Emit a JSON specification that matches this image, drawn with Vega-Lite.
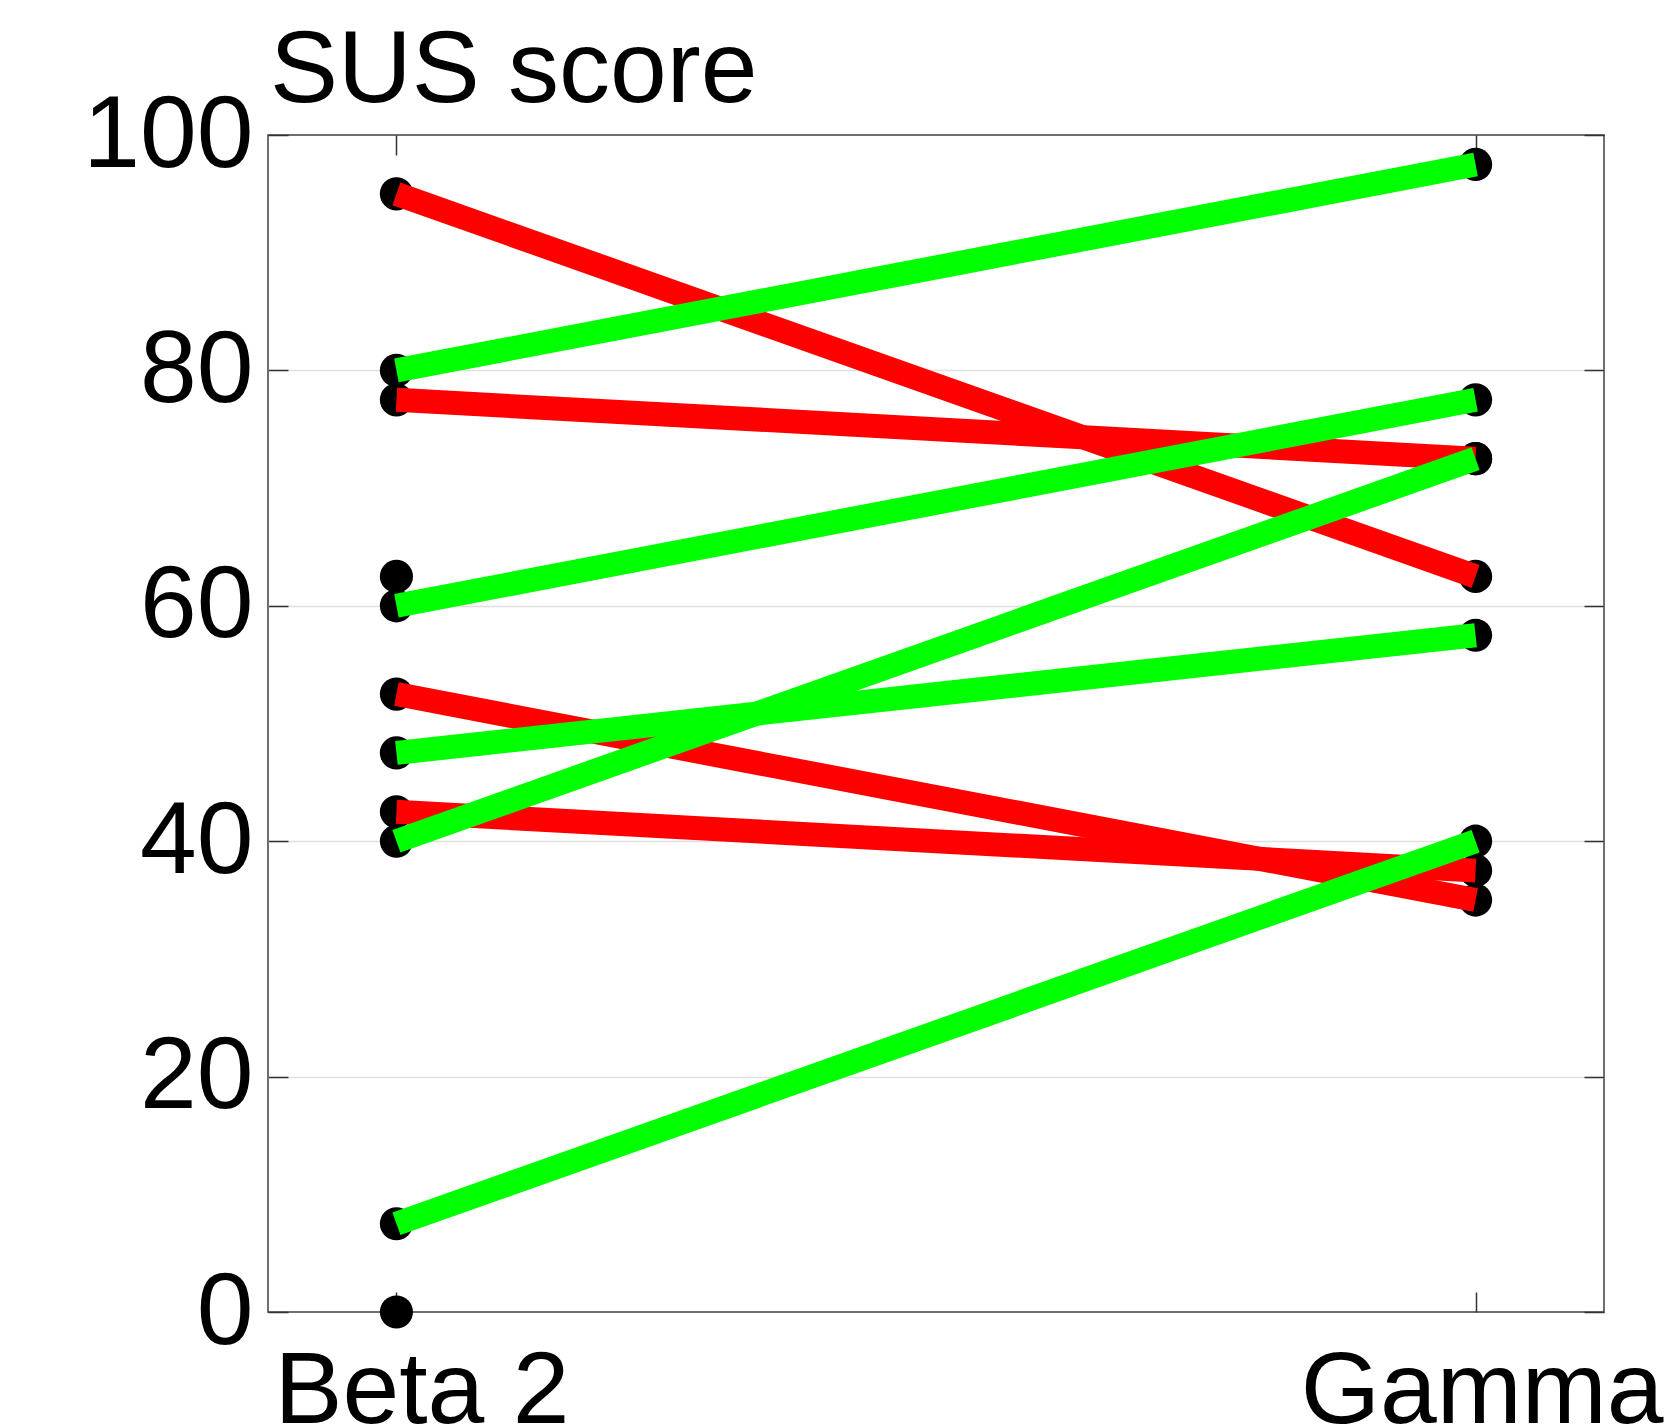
{
  "$schema": "https://vega.github.io/schema/vega-lite/v6.json",
  "width": 1336,
  "height": 1177,
  "autosize": {"type": "none"},
  "padding": {"left": 268, "top": 135, "right": 71, "bottom": 112},
  "background": "white",
  "config": {
    "font": "Liberation Sans",
    "view": {"stroke": "#404040", "strokeWidth": 1.5}
  },
  "title": {
    "text": "SUS score",
    "anchor": "start",
    "frame": "group",
    "fontSize": 102,
    "fontWeight": "normal",
    "color": "black",
    "baseline": "alphabetic",
    "offset": -120,
    "dx": 2
  },
  "data": {
    "values": [
      {"id": 1, "change": "down", "version": "Beta 2", "score": 95},
      {"id": 1, "change": "down", "version": "Gamma", "score": 62.5},
      {"id": 2, "change": "down", "version": "Beta 2", "score": 77.5},
      {"id": 2, "change": "down", "version": "Gamma", "score": 72.5},
      {"id": 3, "change": "down", "version": "Beta 2", "score": 52.5},
      {"id": 3, "change": "down", "version": "Gamma", "score": 35},
      {"id": 4, "change": "down", "version": "Beta 2", "score": 42.5},
      {"id": 4, "change": "down", "version": "Gamma", "score": 37.5},
      {"id": 5, "change": "up", "version": "Beta 2", "score": 80},
      {"id": 5, "change": "up", "version": "Gamma", "score": 97.5},
      {"id": 6, "change": "up", "version": "Beta 2", "score": 60},
      {"id": 6, "change": "up", "version": "Gamma", "score": 77.5},
      {"id": 7, "change": "up", "version": "Beta 2", "score": 47.5},
      {"id": 7, "change": "up", "version": "Gamma", "score": 57.5},
      {"id": 8, "change": "up", "version": "Beta 2", "score": 40},
      {"id": 8, "change": "up", "version": "Gamma", "score": 72.5},
      {"id": 9, "change": "up", "version": "Beta 2", "score": 7.5},
      {"id": 9, "change": "up", "version": "Gamma", "score": 40},
      {"id": 10, "change": "none", "version": "Beta 2", "score": 62.5},
      {"id": 11, "change": "none", "version": "Beta 2", "score": 0}
    ]
  },
  "layer": [
    {
      "mark": {"type": "circle", "size": 1100, "color": "black", "opacity": 1},
      "encoding": {
        "x": {
          "field": "version",
          "type": "nominal",
          "scale": {"type": "point", "padding": 0.119, "domain": ["Beta 2", "Gamma"]},
          "axis": {
            "orient": "bottom",
            "title": null,
            "domain": false,
            "grid": false,
            "labelAngle": 0,
            "labelFontSize": 102,
            "labelColor": "black",
            "labelBaseline": "top",
            "labelLimit": 0,
            "labelPadding": 49,
            "labelOffset": {"condition": {"test": "datum.value === 'Beta 2'", "value": 25}, "value": 6},
            "tickSize": -20,
            "tickColor": "#333333",
            "tickWidth": 1.5
          }
        },
        "y": {
          "field": "score",
          "type": "quantitative",
          "scale": {"domain": [0, 100], "nice": false},
          "axis": {
            "orient": "left",
            "title": null,
            "domain": false,
            "values": [0, 20, 40, 60, 80, 100],
            "grid": true,
            "gridColor": "#e0e0e0",
            "gridWidth": 1.5,
            "gridOpacity": {"condition": {"test": "datum.value === 0 || datum.value === 100", "value": 0}, "value": 1},
            "labelFontSize": 102,
            "labelColor": "black",
            "labelPadding": 35,
            "labelBaseline": "middle",
            "tickSize": -20,
            "tickColor": "#333333",
            "tickWidth": 1.5
          }
        }
      }
    },
    {
      "transform": [{"filter": "datum.change !== 'none'"}],
      "mark": {"type": "line", "strokeWidth": 24, "strokeCap": "butt"},
      "encoding": {
        "x": {
          "field": "version",
          "type": "nominal",
          "scale": {"type": "point", "padding": 0.119, "domain": ["Beta 2", "Gamma"]},
          "axis": {
            "orient": "top",
            "title": null,
            "domain": false,
            "grid": false,
            "labels": false,
            "tickSize": -20,
            "tickColor": "#333333",
            "tickWidth": 1.5
          }
        },
        "y": {
          "field": "score",
          "type": "quantitative",
          "scale": {"domain": [0, 100], "nice": false},
          "axis": {
            "orient": "right",
            "title": null,
            "domain": false,
            "values": [0, 20, 40, 60, 80, 100],
            "grid": false,
            "labels": false,
            "tickSize": -20,
            "tickColor": "#333333",
            "tickWidth": 1.5
          }
        },
        "color": {
          "field": "change",
          "type": "nominal",
          "scale": {"domain": ["down", "up"], "range": ["#ff0000", "#00ff00"]},
          "legend": null
        },
        "detail": {"field": "id", "type": "nominal"}
      }
    }
  ],
  "resolve": {"axis": {"x": "independent", "y": "independent"}}
}
